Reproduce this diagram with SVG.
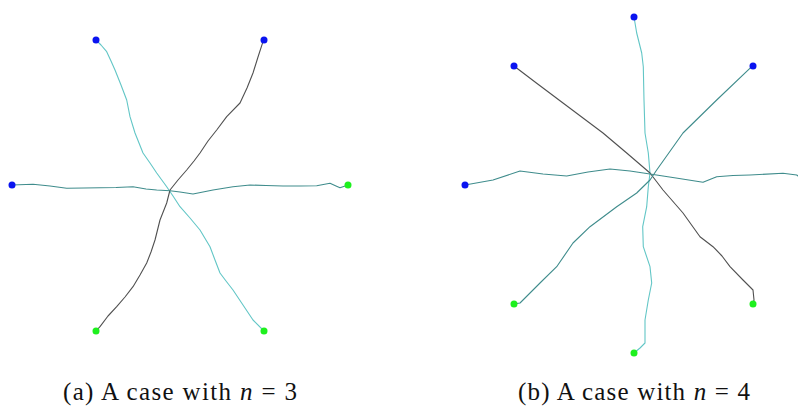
<svg xmlns="http://www.w3.org/2000/svg" width="798" height="408" viewBox="0 0 798 408">
<style>
.p{fill:none;stroke-width:1.1;stroke-linejoin:round;stroke-linecap:round}
.c{stroke:#62c6c6}
.t{stroke:#3f8c8c}
.k{stroke:#505050}
.b{fill:#0a14f0}
.g{fill:#1ef01e}
.cap{font-family:"Liberation Serif","Times New Roman",serif;font-size:25px;fill:#111}
</style>
<g id="connectors">
<path class="p c" d="M96,40 L101,45 106.7,51.7 111,61 115,70 121,85 126.7,100 130,116.7 135,133 143,153 150,163 156.7,173 166.7,186.7 173,196 180,206.7 190,218 200,230 210,246.7 215,260 220,273 226,281 233,290 243,305 253,320 263,330"/>
<path class="p k" d="M264,40 L263,41.7 258,57 253,73 247,88 240,103 226.7,116.7 216.7,130 208,141 200,153 194,161 186.7,170 178,180 170,190 166.7,203 160,220 155,240 151,252 146.7,263 140,275 133,286.7 125,297 116.7,306.7 108,316 100,326.7 96,331"/>
<path class="p t" d="M12,185 L33,184.3 50,186 66.7,188.3 84,188 100,187.7 116,187.5 133,186.7 146,189 156.7,190 170,190.7 180,192 193,194 213,190 233,186.7 250,185 266,185.5 283,186 300,186 316.7,185.7 330,183.3 336,186 340,187.7 348,185"/>
<path class="p c" d="M634,17 L636.7,33 641.7,53 643.3,66.7 644,100 645,133 648.3,153 650,173 648.3,186.7 646.7,206.7 642.7,226.7 643.3,246.7 650,266.7 651.7,283 648.3,300 645,320 645,343 640,348 634,353"/>
<path class="p k" d="M514,66 L536.7,83.3 563,103 583,118 603,133 626.7,153 650,173 663,190 683,213 700,236.7 713,246.7 722,256 730,266.7 743,280 753,290 754,300 753,304"/>
<path class="p t" d="M753,66 L751.7,66.7 716.7,100 683,133 656.7,170 650,180 636.7,193 616.7,206.7 590,226.7 573,243 556.7,266.7 540,283 520,303 514,304"/>
<path class="p t" d="M465,185 L493,180 520,171 543,174 566.7,176 588,172 610,169 630,171 650,174 676,178 703,182.3 716.7,176.7 733,175.5 750,175 783,173.3 796.7,175 798,176"/>
</g>
<g id="node-a1"><circle class="b" cx="96" cy="40" r="3.5"/></g>
<g id="node-a2"><circle class="b" cx="264" cy="40" r="3.5"/></g>
<g id="node-a3"><circle class="b" cx="12" cy="185" r="3.5"/></g>
<g id="node-a4"><circle class="g" cx="348" cy="185" r="3.5"/></g>
<g id="node-a5"><circle class="g" cx="96" cy="331" r="3.5"/></g>
<g id="node-a6"><circle class="g" cx="264" cy="331" r="3.5"/></g>
<g id="node-b1"><circle class="b" cx="634" cy="17" r="3.5"/></g>
<g id="node-b2"><circle class="b" cx="514" cy="66" r="3.5"/></g>
<g id="node-b3"><circle class="b" cx="753" cy="66" r="3.5"/></g>
<g id="node-b4"><circle class="b" cx="465" cy="185" r="3.5"/></g>
<g id="node-b5"><circle class="g" cx="514" cy="304" r="3.5"/></g>
<g id="node-b6"><circle class="g" cx="753" cy="304" r="3.5"/></g>
<g id="node-b7"><circle class="g" cx="634" cy="353" r="3.5"/></g>
<text class="cap" x="63" y="400" textLength="234" lengthAdjust="spacing">(a) A case with <tspan font-style="italic">n</tspan> = 3</text>
<text class="cap" x="518" y="400" textLength="232" lengthAdjust="spacing">(b) A case with <tspan font-style="italic">n</tspan> = 4</text>
</svg>
